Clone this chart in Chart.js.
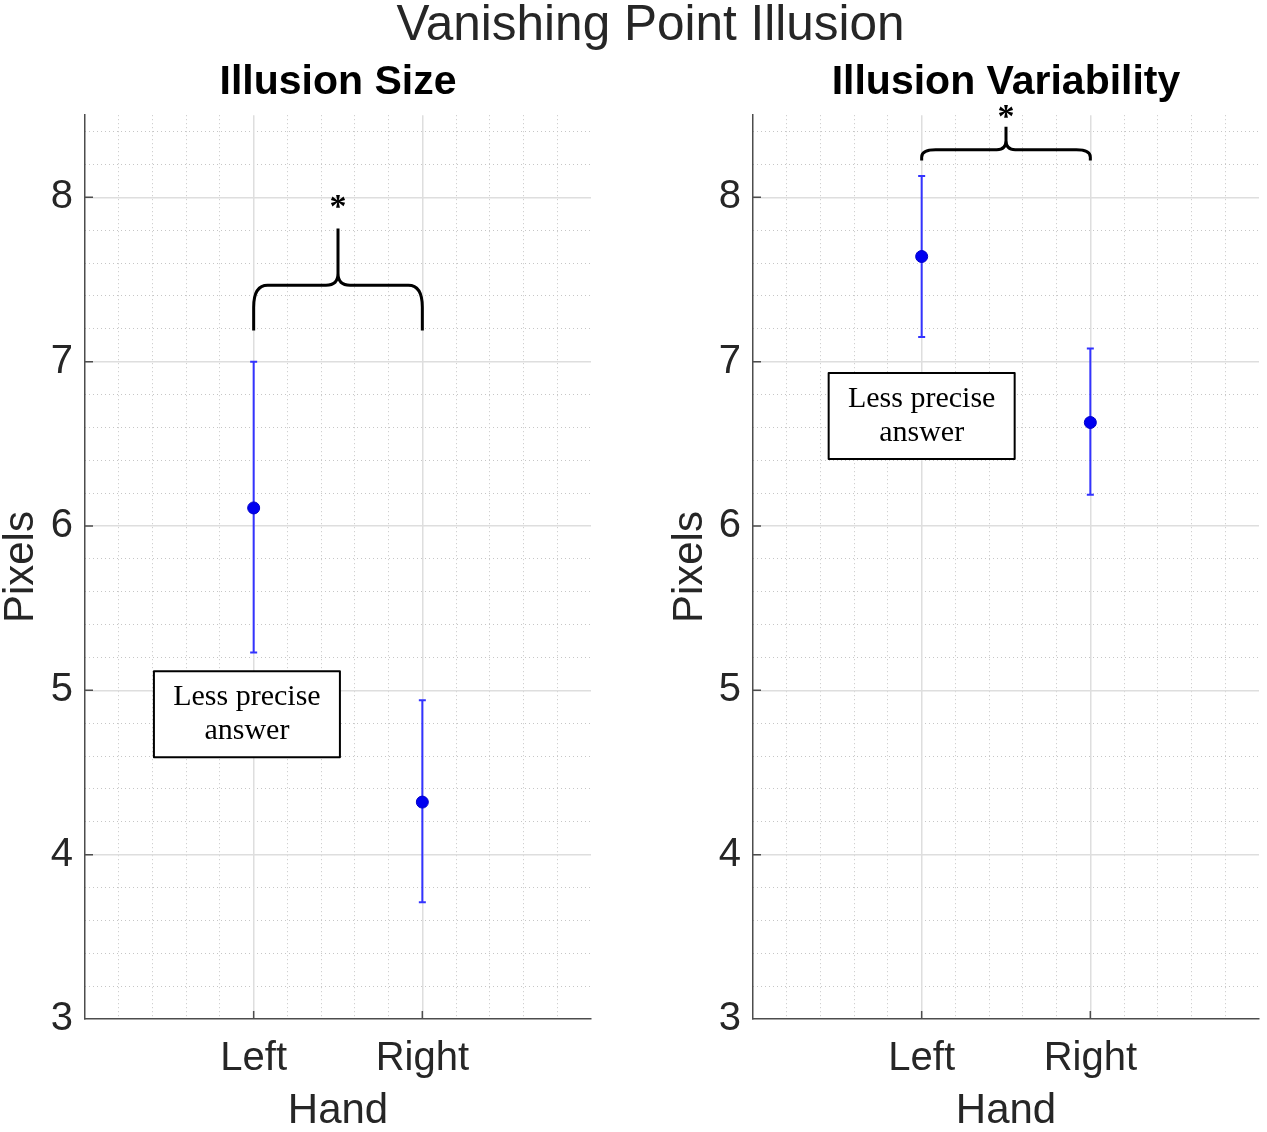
<!DOCTYPE html>
<html>
<head>
<meta charset="utf-8">
<script src="https://cdn.jsdelivr.net/npm/chart.js@4.4.0/dist/chart.umd.min.js"></script>
<style>
  body { margin: 0; background: #fff; width: 1267px; height: 1132px; position: relative; overflow: hidden; }
  #title { position: absolute; left: 17px; top: -3px; width: 1267px; text-align: center;
           font: 49.5px "Liberation Sans", Arial, sans-serif; line-height: 52px; color: #262626; }
  canvas { position: absolute; top: 0; }
  #sizeChart { left: 0; }
  #varChart { left: 634px; }
</style>
</head>
<body>
<div id="title">Vanishing Point Illusion</div>
<canvas id="sizeChart" width="633" height="1132"></canvas>
<canvas id="varChart" width="641" height="1132"></canvas>
<script>
const hands = ['Left', 'Right'];
const yRange = [3, 8.5];
const xRange = [0, 3];

// Illusion Size: mean and error bar ends
const sizeMean = [6.11, 4.32];
const sizeLow = [5.23, 3.71];
const sizeHigh = [7.00, 4.94];

// Illusion Variability
const varMean = [7.64, 6.63];
const varLow = [7.15, 6.19];
const varHigh = [8.13, 7.08];

// significance brace: ends, bar, tip, asterisk (y values)
const sizeBrace = [7.19, 7.465, 7.81, 7.97];
const varBrace = [8.225, 8.29, 8.43, 8.52];

// note box centre (x, y)
const sizeNote = [0.96, 4.855];
const varNote = [1.0, 6.67];
const noteLines = ['Less precise', 'answer'];

const SANS = '"Liberation Sans", Arial, sans-serif';
const SERIF = '"Liberation Serif", "Times New Roman", serif';
const isInt = v => Math.abs(v - Math.round(v)) < 1e-6;

const extras = {
  id: 'extras',
  beforeDatasetsDraw(chart) {
    // inward tick marks, matlab style
    const { ctx, chartArea: a, scales: { x, y } } = chart;
    ctx.save();
    ctx.strokeStyle = '#4d4d4d';
    ctx.lineWidth = 1.5;
    ctx.beginPath();
    y.ticks.forEach(t => {
      if (t.value > yRange[0]) {
        const py = y.getPixelForValue(t.value);
        ctx.moveTo(a.left, py); ctx.lineTo(a.left + 8, py);
      }
    });
    x.ticks.forEach(t => {
      if (t.value > xRange[0] && t.value < xRange[1]) {
        const px = x.getPixelForValue(t.value);
        ctx.moveTo(px, a.bottom); ctx.lineTo(px, a.bottom - 8);
      }
    });
    ctx.stroke();
    ctx.restore();
  },
  afterDatasetsDraw(chart, args, opts) {
    const { ctx, scales: { x, y } } = chart;
    const b = opts.brace, n = opts.note;
    const x1 = x.getPixelForValue(1), x2 = x.getPixelForValue(2), xm = (x1 + x2) / 2;
    const yEnd = y.getPixelForValue(b[0]), yBar = y.getPixelForValue(b[1]), yTip = y.getPixelForValue(b[2]);
    const rv = Math.min(22, (yEnd - yBar) * 0.7);
    const rh = 14;
    const rc = Math.min(12, (yBar - yTip) * 0.4);

    ctx.save();
    ctx.strokeStyle = '#000';
    ctx.lineWidth = 3;
    ctx.lineJoin = 'round';
    ctx.beginPath();
    ctx.moveTo(x1, yEnd);
    ctx.lineTo(x1, yBar + rv);
    ctx.quadraticCurveTo(x1, yBar, x1 + rh, yBar);
    ctx.lineTo(xm - rc, yBar);
    ctx.quadraticCurveTo(xm, yBar, xm, yBar - rc);
    ctx.lineTo(xm, yTip);
    ctx.moveTo(xm, yBar - rc);
    ctx.quadraticCurveTo(xm, yBar, xm + rc, yBar);
    ctx.lineTo(x2 - rh, yBar);
    ctx.quadraticCurveTo(x2, yBar, x2, yBar + rv);
    ctx.lineTo(x2, yEnd);
    ctx.stroke();

    ctx.fillStyle = '#000';
    ctx.font = 'bold 34px ' + SERIF;
    ctx.textAlign = 'center';
    ctx.textBaseline = 'middle';
    ctx.fillText('*', xm, y.getPixelForValue(b[3]) + 6);

    // note box
    const cx = x.getPixelForValue(n[0]), cy = y.getPixelForValue(n[1]);
    const w = 186, h = 86;
    ctx.fillStyle = '#fff';
    ctx.fillRect(cx - w / 2, cy - h / 2, w, h);
    ctx.lineWidth = 2;
    ctx.strokeRect(cx - w / 2, cy - h / 2, w, h);
    ctx.fillStyle = '#000';
    ctx.font = '30px ' + SERIF;
    ctx.fillText(noteLines[0], cx, cy - 17);
    ctx.fillText(noteLines[1], cx, cy + 17);
    ctx.restore();
  }
};

function makeChart(id, titleText, mean, low, high, brace, note, yAxisWidth, yTitlePad, padRight) {
  const datasets = [{
    data: hands.map((h, i) => ({ x: i + 1, y: mean[i] })),
    pointRadius: 6,
    pointBackgroundColor: '#0000f0',
    pointBorderColor: '#0000c8',
    pointBorderWidth: 1
  }];
  hands.forEach((h, i) => {
    datasets.push({
      data: [{ x: i + 1, y: low[i] }, { x: i + 1, y: high[i] }],
      showLine: true,
      borderColor: '#3333ff',
      borderWidth: 2,
      pointStyle: 'line',
      pointRadius: 3.5,
      pointBorderColor: '#3333ff',
      pointBorderWidth: 2
    });
  });

  const minorGrid = c => isInt(c.tick.value) ? 'rgba(0,0,0,0)' : '#c6c6c6';

  return new Chart(document.getElementById(id), {
    type: 'scatter',
    data: { datasets },
    plugins: [extras],
    options: {
      responsive: false,
      animation: false,
      devicePixelRatio: 1,
      events: [],
      layout: { padding: { right: padRight } },
      plugins: {
        legend: { display: false },
        tooltip: { enabled: false },
        title: {
          display: true,
          text: titleText,
          fullSize: false,
          color: '#000',
          font: { family: SANS, size: 41, weight: 'bold', lineHeight: 1.2 },
          padding: { top: 58, bottom: 8 }
        },
        extras: { brace, note }
      },
      scales: {
        xMinor: {
          type: 'linear', position: 'bottom', min: xRange[0], max: xRange[1],
          ticks: { display: false, stepSize: 0.2, includeBounds: false },
          grid: { color: minorGrid, lineWidth: 1, drawTicks: false },
          border: { display: false, dash: [1, 3] },
          afterFit: s => { s.height = 0; }
        },
        yMinor: {
          type: 'linear', position: 'left', min: yRange[0], max: yRange[1],
          ticks: { display: false, stepSize: 0.2, includeBounds: false },
          grid: { color: minorGrid, lineWidth: 1, drawTicks: false },
          border: { display: false, dash: [1, 3] },
          afterFit: s => { s.width = 0; }
        },
        x: {
          type: 'linear', position: 'bottom', min: xRange[0], max: xRange[1],
          ticks: {
            stepSize: 1, autoSkip: false, maxRotation: 0, padding: 16,
            color: '#262626', font: { family: SANS, size: 40 },
            callback: v => hands[v - 1] ?? ''
          },
          grid: {
            color: c => (c.tick.value > xRange[0] && c.tick.value < xRange[1]) ? '#dedede' : 'rgba(0,0,0,0)',
            lineWidth: 1.5, drawTicks: false
          },
          border: { color: '#4d4d4d', width: 1.5 },
          title: {
            display: true, text: 'Hand', color: '#262626',
            font: { family: SANS, size: 42, lineHeight: 1 }, padding: { bottom: 0 }
          },
          afterFit: s => { s.height = 113; }
        },
        y: {
          type: 'linear', position: 'left', min: yRange[0], max: yRange[1],
          ticks: {
            stepSize: 1, includeBounds: false, padding: 12,
            color: '#262626', font: { family: SANS, size: 40 }
          },
          grid: {
            color: c => c.tick.value > yRange[0] ? '#dedede' : 'rgba(0,0,0,0)',
            lineWidth: 1.5, drawTicks: false
          },
          border: { color: '#4d4d4d', width: 1.5 },
          title: {
            display: true, text: 'Pixels', color: '#262626',
            font: { family: SANS, size: 42, lineHeight: 1 }, padding: { top: yTitlePad }
          },
          afterFit: s => { s.width = yAxisWidth; }
        }
      }
    }
  });
}

// the x-axis label padding (16px) keeps a right margin of its own
makeChart('sizeChart', 'Illusion Size', sizeMean, sizeLow, sizeHigh, sizeBrace, sizeNote, 85, 0, 42);
makeChart('varChart', 'Illusion Variability', varMean, varLow, varHigh, varBrace, varNote, 119, 35, 0);
</script>
</body>
</html>
